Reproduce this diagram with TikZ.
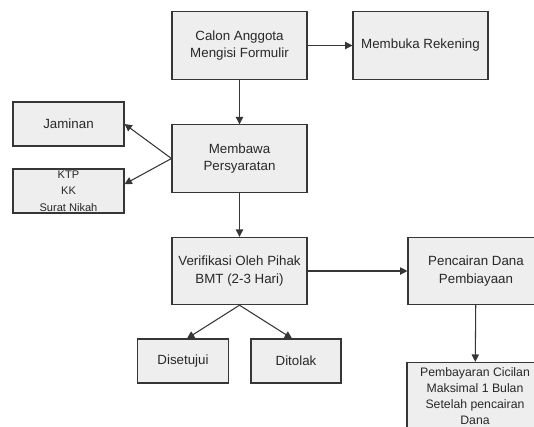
\documentclass[tikz,border=0pt]{standalone}
\usepackage{fontspec}
\setmainfont{Liberation Sans}
\usetikzlibrary{arrows.meta}
\definecolor{boxFill}{RGB}{238,238,238}
\definecolor{lineGray}{RGB}{54,54,54}
\definecolor{textGray}{RGB}{40,40,40}

\begin{document}
\begin{tikzpicture}[
    x=0.75pt,
    y=-0.75pt,
    box/.style={
        draw=lineGray,
        fill=boxFill,
        line width=0.8pt,
        text=textGray,
        align=center,
        inner sep=1pt,
        minimum width=101.25pt,
        minimum height=50.5pt,
        font=\fontsize{10}{13}\selectfont
    },
    small box/.style={
        box,
        minimum height=33pt
    },
    flow/.style={
        lineGray,
        line width=0.8pt,
        -{Triangle[length=5.5pt,width=5.5pt]}
    }
]

%------------------------------------------------
% Frame (picture is cut at right and bottom)
%------------------------------------------------
\useasboundingbox (0,0) rectangle (534,426);
\clip (0,0) rectangle (534,426);

%------------------------------------------------
% Main column
%------------------------------------------------
\node[box] (calon) at (239.5,45.5)
    {Calon Anggota\\Mengisi Formulir};
\node[box] (rekening) at (420.5,45.5)
    {Membuka Rekening};
\node[box] (membawa) at (239.5,158.5)
    {Membawa\\Persyaratan};
\node[box] (verifikasi) at (239.5,271)
    {Verifikasi Oleh Pihak\\BMT (2-3 Hari)};

%------------------------------------------------
% Requirements on the left
%------------------------------------------------
\node[small box,minimum width=83.25pt] (jaminan) at (68.5,124)
    {Jaminan};
\node[small box,minimum width=83.25pt,
    font=\fontsize{8.3}{12.4}\selectfont] (dokumen) at (68.5,191)
    {KTP\\KK\\Surat Nikah};

%------------------------------------------------
% Result of the verification
%------------------------------------------------
\node[small box,minimum width=68.25pt] (disetujui) at (183,361)
    {Disetujui};
\node[small box,minimum width=67.5pt] (ditolak) at (296,361)
    {Ditolak};

%------------------------------------------------
% Disbursement and payment
%------------------------------------------------
\node[box,minimum width=102pt] (pencairan) at (476,271)
    {Pencairan Dana\\Pembiayaan};
\node[box,minimum width=102pt,
    font=\fontsize{9.2}{12}\selectfont] (pembayaran) at (475,396)
    {Pembayaran Cicilan\\Maksimal 1 Bulan\\Setelah pencairan\\Dana};

%------------------------------------------------
% Connectors
%------------------------------------------------
\draw[flow] (calon) -- (rekening);
\draw[flow] (calon) -- (membawa);
\draw[flow] (membawa.west) -- (jaminan.east);
\draw[flow] (membawa.west) -- (dokumen.7);
\draw[flow] (membawa) -- (verifikasi);
\draw[flow] (verifikasi.south) -- (disetujui.80);
\draw[flow] (verifikasi.south) -- (ditolak.100);
\draw[flow] (verifikasi) -- (pencairan);
\draw[flow] (pencairan) -- (pembayaran);

\end{tikzpicture}
\end{document}
